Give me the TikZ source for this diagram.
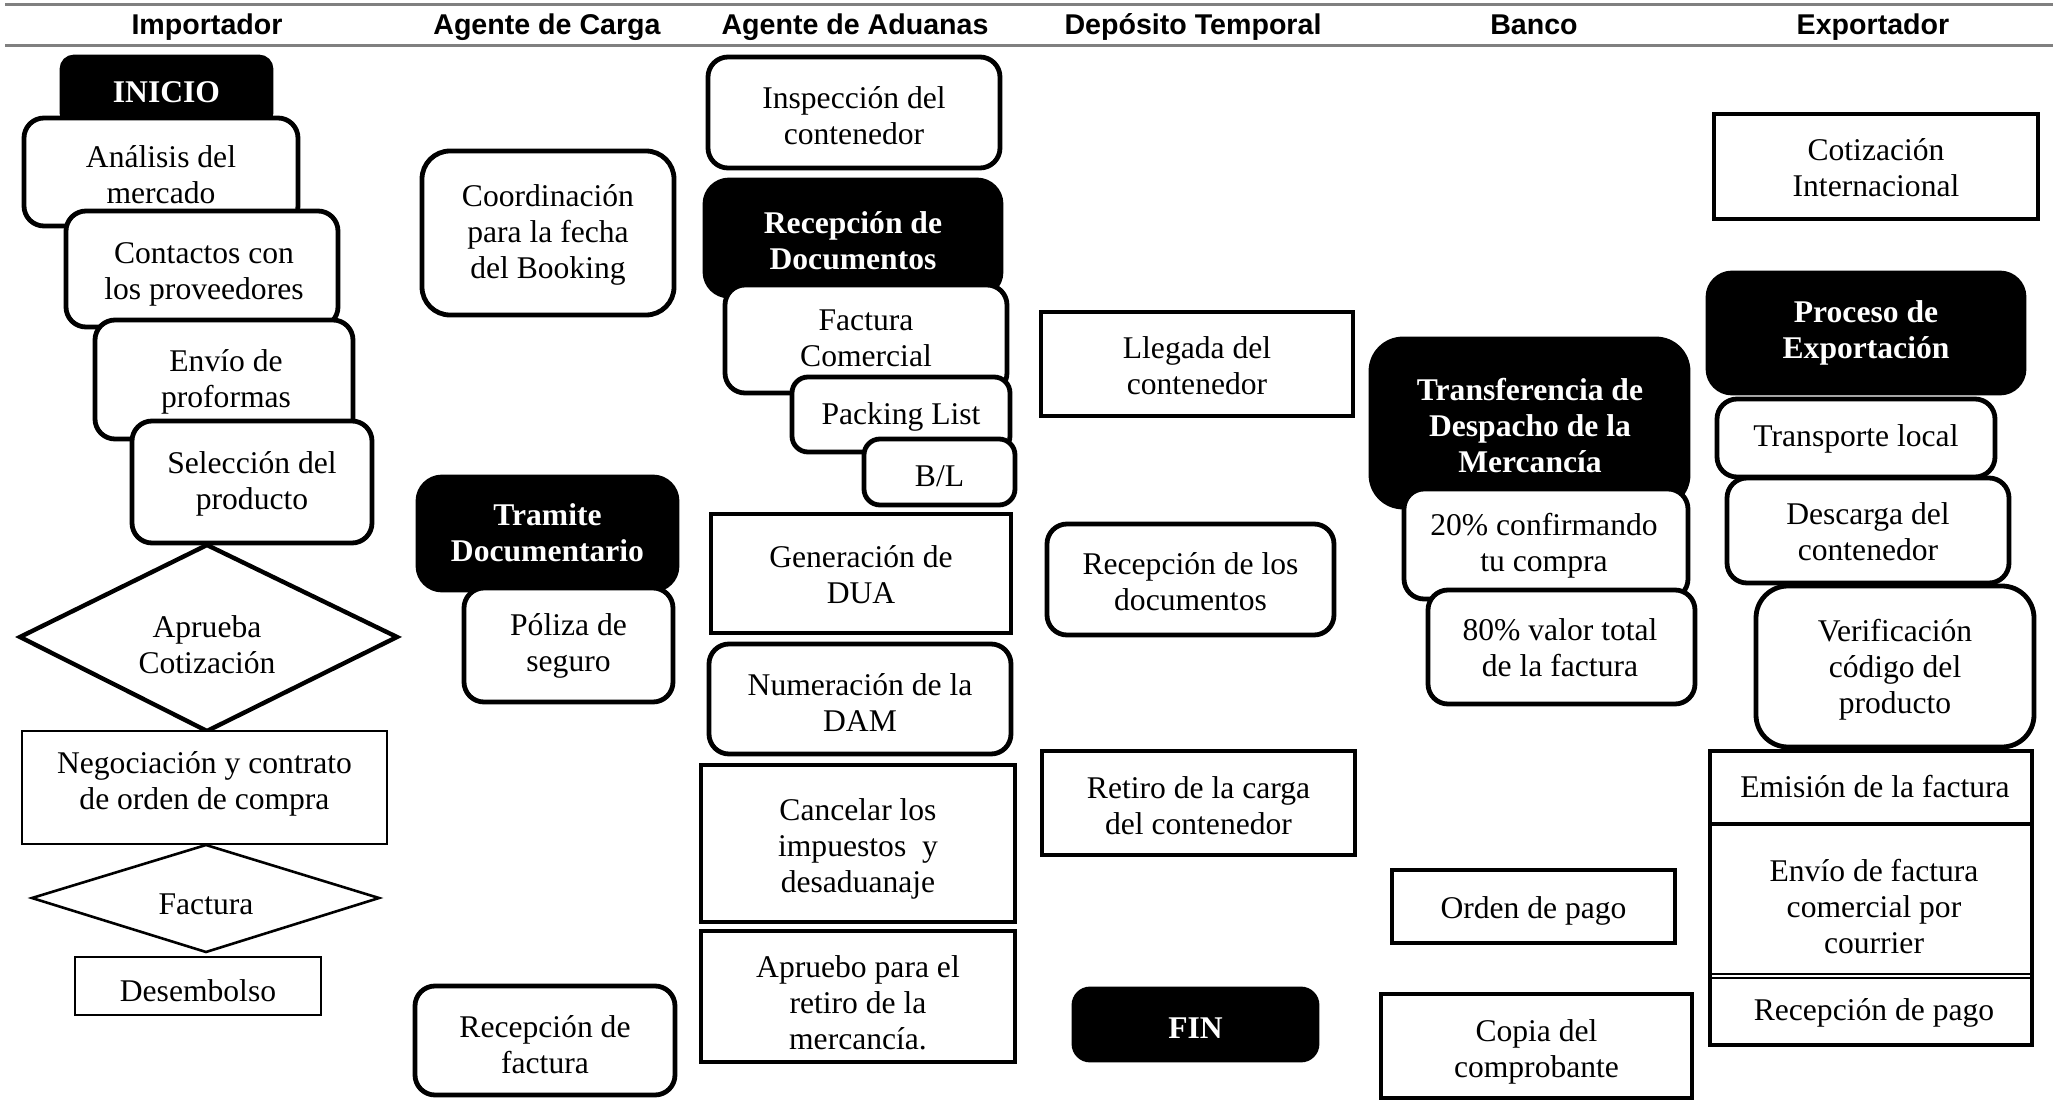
\documentclass[tikz,border=0pt]{standalone}
\usepackage{fontspec}
\setmainfont{Liberation Serif}
\newfontfamily\hdrfont{Liberation Sans}
\usetikzlibrary{fit}
\definecolor{hdrgray}{RGB}{128,128,128}
\begin{document}
\begin{tikzpicture}[x=0.5pt,y=-0.5pt,
  every node/.style={font=\fontsize{15.8}{18}\selectfont, align=center, inner sep=0pt, outer sep=0pt},
  wbox/.style={draw, line width=2.4pt, fill=white, rounded corners=10pt},
  bbox/.style={draw, line width=2.4pt, fill=black, rounded corners=12pt},
  btxt/.style={text=white, font=\fontsize{15.8}{18}\selectfont\bfseries},
  sbox/.style={draw, line width=2.4pt, fill=white},
  tbox/.style={draw, line width=1.3pt, fill=white},
  hdr/.style={font=\hdrfont\bfseries\fontsize{14.3}{16}\selectfont, anchor=base},
  hline/.style={draw=hdrgray, line width=1.5pt},
]
\useasboundingbox (0,0) rectangle (2053,1102);

% header
\coordinate (t1) at (5,5); \coordinate (t2) at (2053,5);
\coordinate (b1) at (5,46); \coordinate (b2) at (2053,46);
\draw[hline] (t1) -- (t2);
\draw[hline] (b1) -- (b2);
\node[hdr] (h1) at (207,35) {Importador};
\node[hdr] (h2) at (547,35) {Agente de Carga};
\node[hdr] (h3) at (855,35) {Agente de Aduanas};
\node[hdr] (h4) at (1193,35) {Depósito Temporal};
\node[hdr] (h5) at (1534,35) {Banco};
\node[hdr] (h6) at (1873,35) {Exportador};

% Importador
\node[bbox, rounded corners=6pt, fit={(62,57)(271,125)}] (inicio) {};
\node[btxt] (inicioT) at (inicio |- 0,92) {INICIO};
\node[wbox, fit={(24,118)(298,226)}] (analisis) {};
\node (analisisT) at (analisis |- 0,175) {Análisis del\\mercado};
\node[wbox, fit={(66,211)(338,327)}] (contactos) {};
\node (contactosT) at (204,274) {Contactos con\\los proveedores};
\node[wbox, fit={(95,320)(353,439)}] (envio) {};
\node (envioT) at (226,382) {Envío de\\proformas};
\node[wbox, fit={(132,421)(372,543)}] (seleccion) {};
\node (seleccionT) at (seleccion |- 0,484) {Selección del\\producto};
\coordinate (apw) at (20,637); \coordinate (apn) at (207,545);
\coordinate (ape) at (397,637); \coordinate (aps) at (207,731);
\draw[line width=2.2pt, fill=white] (apw) -- (apn) -- (ape) -- (aps) -- cycle;
\node (aprueba) at (207,645) {Aprueba\\Cotización};
\node[tbox, fit={(22,731)(387,844)}] (negociacion) {};
\node (negociacionT) at (negociacion |- 0,784) {Negociación y contrato\\de orden de compra};
\coordinate (fw) at (32,898); \coordinate (fn) at (206,845);
\coordinate (fe) at (379,898); \coordinate (fs) at (206,952);
\draw[line width=1.3pt, fill=white] (fw) -- (fn) -- (fe) -- (fs) -- cycle;
\node (factura) at (206,904) {Factura};
\node[tbox, fit={(75,957)(321,1015)}] (desembolso) {};
\node (desembolsoT) at (desembolso |- 0,991) {Desembolso};

% Agente de Carga
\node[wbox, rounded corners=14pt, fit={(422,151)(674,315)}] (coord) {};
\node (coordT) at (coord |- 0,235) {Coordinación\\para la fecha\\del Booking};
\node[bbox, fit={(418,477)(677,590)}] (tramite) {};
\node[btxt] (tramiteT) at (tramite |- 0,533) {Tramite\\Documentario};
\node[wbox, fit={(464,588)(673,702)}] (poliza) {};
\node (polizaT) at (poliza |- 0,646) {Póliza de\\seguro};
\node[wbox, fit={(415,986)(675,1095)}] (recfact) {};
\node (recfactT) at (recfact |- 0,1045) {Recepción de\\factura};

% Agente de Aduanas
\node[wbox, fit={(708,57)(1000,168)}] (inspeccion) {};
\node (inspeccionT) at (inspeccion |- 0,116) {Inspección del\\contenedor};
\node[bbox, fit={(705,180)(1001,296)}] (recdocs) {};
\node[btxt] (recdocsT) at (recdocs |- 0,241) {Recepción de\\Documentos};
\node[wbox, fit={(725,285)(1007,393)}] (factcom) {};
\node (factcomT) at (factcom |- 0,338) {Factura\\Comercial};
\node[wbox, rounded corners=8pt, fit={(792,377)(1010,452)}] (packing) {};
\node (packingT) at (packing |- 0,417) {Packing List};
\node[wbox, rounded corners=8pt, fit={(864,439)(1015,505)}] (bl) {};
\node (blT) at (bl |- 0,476) {B/L};
\node[sbox, fit={(711,514)(1011,633)}] (dua) {};
\node (duaT) at (dua |- 0,575) {Generación de\\DUA};
\node[wbox, fit={(709,644)(1011,754)}] (dam) {};
\node (damT) at (dam |- 0,703) {Numeración de la\\DAM};
\node[sbox, fit={(701,765)(1015,922)}] (cancelar) {};
\node (cancelarT) at (cancelar |- 0,849) {Cancelar los\\impuestos\ \ y\\desaduanaje};
\node[sbox, fit={(701,931)(1015,1062)}] (apruebo) {};
\node (aprueboT) at (apruebo |- 0,1003) {Apruebo para el\\retiro de la\\mercancía.};

% Deposito Temporal
\node[sbox, fit={(1041,312)(1353,416)}] (llegada) {};
\node (llegadaT) at (llegada |- 0,366) {Llegada del\\contenedor};
\node[wbox, fit={(1047,524)(1334,635)}] (recdocs2) {};
\node (recdocs2T) at (recdocs2 |- 0,582) {Recepción de los\\documentos};
\node[sbox, fit={(1042,751)(1355,855)}] (retiro) {};
\node (retiroT) at (retiro |- 0,806) {Retiro de la carga\\del contenedor};
\node[bbox, rounded corners=8pt, fit={(1074,989)(1317,1060)}] (fin) {};
\node[btxt] (finT) at (fin |- 0,1028) {FIN};

% Banco
\node[bbox, rounded corners=16pt, fit={(1371,339)(1688,507)}] (transf) {};
\node[btxt] (transfT) at (1530,426) {Transferencia de\\Despacho de la\\Mercancía};
\node[wbox, fit={(1404,489)(1688,599)}] (p20) {};
\node (p20T) at (1544,546) {20\% confirmando\\tu compra};
\node[wbox, fit={(1428,590)(1695,704)}] (p80) {};
\node (p80T) at (1560,648) {80\% valor total\\de la factura};
\node[sbox, fit={(1392,870)(1675,943)}] (orden) {};
\node (ordenT) at (orden |- 0,911) {Orden de pago};
\node[sbox, fit={(1381,994)(1692,1098)}] (copia) {};
\node (copiaT) at (copia |- 0,1052) {Copia del\\comprobante};

% Exportador
\node[sbox, fit={(1714,114)(2038,219)}] (cotiz) {};
\node (cotizT) at (cotiz |- 0,168) {Cotización\\Internacional};
\node[bbox, fit={(1708,273)(2024,393)}] (proceso) {};
\node[btxt] (procesoT) at (proceso |- 0,333) {Proceso de\\Exportación};
\node[wbox, fit={(1717,399)(1995,477)}] (transporte) {};
\node (transporteT) at (transporte |- 0,439) {Transporte local};
\node[wbox, fit={(1727,478)(2009,583)}] (descarga) {};
\node (descargaT) at (descarga |- 0,532) {Descarga del\\contenedor};
\node[wbox, rounded corners=16pt, fit={(1756,586)(2034,747)}] (verif) {};
\node (verifT) at (verif |- 0,670) {Verificación\\código del\\producto};
\node[fit={(1710,751)(2032,824)}] (emision) {};
\node (emisionT) at (1875,787) {Emisión de la factura};
\node[fit={(1710,824)(2032,974)}] (envfact) {};
\node (envfactT) at (1874,907) {Envío de factura\\comercial por\\courrier};
\node[fit={(1710,978)(2032,1045)}] (recpago) {};
\node (recpagoT) at (1874,1013) {Recepción de pago};
\draw[line width=2.4pt] (emision.north west) rectangle (recpago.south east);
\draw[line width=2.4pt] (emision.south west) -- (emision.south east);
\draw[line width=0.9pt] (envfact.south west) -- (envfact.south east);
\draw[line width=0.9pt] (recpago.north west) -- (recpago.north east);
\end{tikzpicture}
\end{document}
